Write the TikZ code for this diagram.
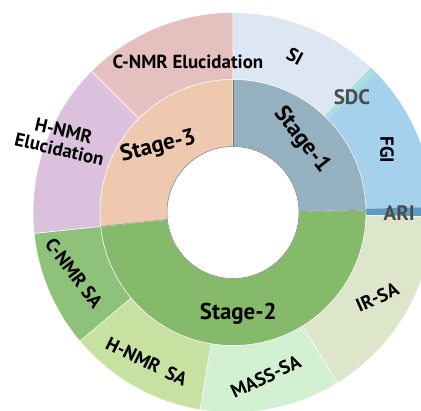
\documentclass[tikz,border=0pt]{standalone}
\usepackage{fontspec}
\setmainfont{PT Sans}
\usetikzlibrary{calc}
\definecolor{stageone}{HTML}{95B1BF}
\definecolor{stagetwo}{HTML}{86BA6B}
\definecolor{stagethree}{HTML}{EEC9AF}
\definecolor{sicol}{HTML}{DDE7F4}
\definecolor{sdccol}{HTML}{A9DDE2}
\definecolor{fgicol}{HTML}{A6D1EC}
\definecolor{aricol}{HTML}{5D9BC2}
\definecolor{irsacol}{HTML}{DDE5CB}
\definecolor{masscol}{HTML}{D3F0D3}
\definecolor{hsacol}{HTML}{C6E1A0}
\definecolor{csacol}{HTML}{8EC27B}
\definecolor{helucol}{HTML}{DCC1DF}
\definecolor{celucol}{HTML}{E4C0BE}
\def\ringpart[#1](#2:#3:#4:#5){\filldraw[#1] (#2:#4) arc (#2:#3:#4) -- (#3:#5) arc (#3:#2:#5) -- cycle;}
\tikzset{
  seglbl/.style={font=\bfseries\fontsize{19}{19}\selectfont, inner sep=0pt, align=center},
  stagelbl/.style={font=\bfseries\fontsize{23}{23}\selectfont, inner sep=0pt},
  greylbl/.style={seglbl, font=\bfseries\fontsize{21}{21}\selectfont, text=black!70}
}

\begin{document}
\begin{tikzpicture}[x=1bp,y=1bp]
		%%%%% START %%%%%
		\useasboundingbox (-233,-198.5) rectangle (188,212.5);
		\clip (-233,-198.5) rectangle (188,212.5);
		
		% outer ring
		\ringpart[fill=sicol, draw=white, line width=0.5pt](46.5:90:133:200);
		\ringpart[fill=sdccol, draw=none](44.5:46.5:133:200);
		\ringpart[fill=fgicol, draw=none](1.6:44.5:133:200);
		\ringpart[fill=aricol, draw=none](-1.2:1.6:133:200);
		\ringpart[fill=irsacol, draw=white, line width=0.5pt](-58.5:-1.2:133:200);
		\ringpart[fill=masscol, draw=white, line width=0.5pt](-99.5:-58.5:133:200);
		\ringpart[fill=hsacol, draw=white, line width=0.5pt](-140:-99.5:133:200);
		\ringpart[fill=csacol, draw=white, line width=0.5pt](-174:-140:133:200);
		\ringpart[fill=helucol, draw=white, line width=0.5pt](135:186:133:200);
		\ringpart[fill=celucol, draw=white, line width=0.5pt](90:135:133:200);
		
		% inner ring
		\ringpart[fill=stageone, draw=white, line width=0.5pt](0.9:90:66:133);
		\ringpart[fill=stagetwo, draw=white, line width=0.5pt](-174:0.9:66:133);
		\ringpart[fill=stagethree, draw=white, line width=0.5pt](90:186:66:133);
		\draw[black!55, line width=0.4pt] (90:66) -- (90:133);
		\draw[black!55, line width=0.4pt] (0.9:66) -- (0.9:133);
		\draw[black!55, line width=0.4pt] (186:66) -- (186:133);
		\draw[fill=white, draw=black!55, line width=0.5pt] (0,0) circle (66);
		
		% labels
		\node[stagelbl, rotate=-52] (stagei) at (68.7,72.5) {Stage-1};
		\node[stagelbl] (stageii) at (5.3,-100.8) {Stage-2};
		\node[stagelbl, rotate=14] (stageiii) at (-74.7,65.8) {Stage-3};
		
		\node[seglbl] (celu) at (-45,150.5) {C-NMR Elucidation};
		\node[seglbl, rotate=-28] (si) at (62,155.8) {SI};
		\node[greylbl] (sdc) at (119,115.5) {SDC};
		\node[seglbl, rotate=-90] (fgi) at (154,62.5) {FGI};
		\node[greylbl] (ari) at (166.3,-0.8) {ARI};
		\node[seglbl, rotate=24] (irsa) at (144.3,-84.8) {IR-SA};
		\node[seglbl, rotate=25] (masssa) at (32.7,-164.2) {MASS-SA};
		\node[seglbl, rotate=-26] (hsa) at (-86.3,-149.2) {H-NMR\ \,SA};
		\node[seglbl, rotate=-53] (csa) at (-159,-60.5) {C-NMR SA};
		\node[seglbl, rotate=-13] (helu) at (-171.5,72.5) {H-NMR\\Elucidation};
		%%%%% END %%%%%
	\end{tikzpicture}
\end{document}
